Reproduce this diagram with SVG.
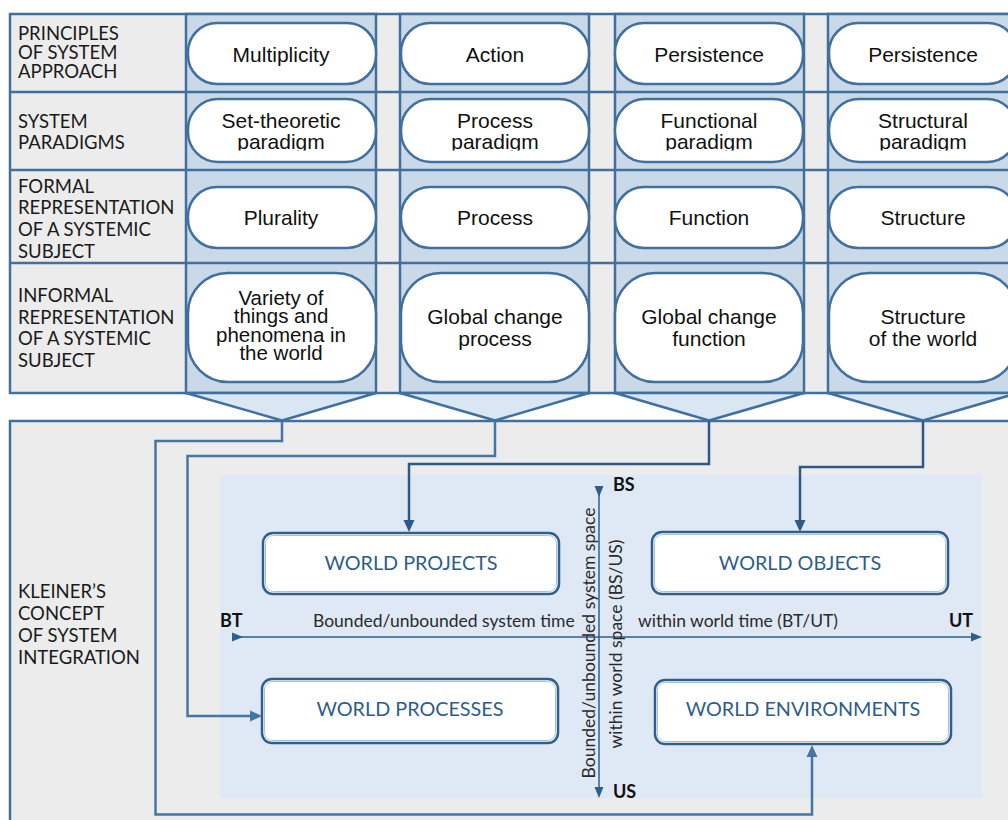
<svg xmlns="http://www.w3.org/2000/svg" width="1008" height="820" viewBox="0 0 1008 820">
  <defs>
    <style>
      .frame { stroke: #41709E; stroke-width: 2.5; }
      .gray { fill: #ECECEC; }
      .col { fill: #C9D9E8; }
      .chev { fill: #D9E7F4; stroke: #41709E; stroke-width: 2.5; stroke-linejoin: round; }
      .pill { fill: #FFFFFF; stroke: #41709E; stroke-width: 2.5; }
      .ptxt { font-family: "Liberation Sans", Arial, sans-serif; font-size: 21px; fill: #111111; text-anchor: middle; }
      .tight { font-size: 20.5px; }
      .lbl { font-family: Lato, "Open Sans", sans-serif; font-size: 18.5px; fill: #1A1A1A; }
      .box { fill: #FFFFFF; stroke: #2F5F8C; stroke-width: 2.5; }
      .boxin { fill: none; stroke: #A9C2DA; stroke-width: 1; }
      .btxt { font-family: Lato, "Open Sans", sans-serif; font-size: 19.8px; fill: #2E5D8A; text-anchor: middle; }
      .axis { stroke: #2D5F8E; stroke-width: 1.5; fill: none; }
      .atxt { font-family: Lato, "Open Sans", sans-serif; font-size: 17.5px; fill: #2A2A2A; }
      .pole { font-family: Lato, "Open Sans", sans-serif; font-size: 18px; font-weight: bold; fill: #111111; }
      .link { fill: none; stroke-width: 2.5; stroke-linejoin: miter; }
      .light { stroke: #4675A3; }
      .dark { stroke: #2C5986; }
    </style>
    <marker id="arrLight" markerUnits="userSpaceOnUse" viewBox="0 -6 12 12" refX="0" refY="0" markerWidth="12" markerHeight="12" orient="auto">
      <path d="M0,-5.5 L12,0 L0,5.5 z" fill="#4675A3"/>
    </marker>
    <marker id="arrDark" markerUnits="userSpaceOnUse" viewBox="0 -6 12 12" refX="0" refY="0" markerWidth="12" markerHeight="12" orient="auto">
      <path d="M0,-5.5 L12,0 L0,5.5 z" fill="#2C5986"/>
    </marker>
    <marker id="arrAxis" markerUnits="userSpaceOnUse" viewBox="0 -5 11 10" refX="0" refY="0" markerWidth="11" markerHeight="10" orient="auto">
      <path d="M0,-4.5 L11,0 L0,4.5 z" fill="#2D5F8E"/>
    </marker>
    <!-- the second line of the paradigm pills is cut just under its baseline -->
    <clipPath id="cutRow2">
      <rect x="0" y="95" width="1008" height="55.5"/>
    </clipPath>
  </defs>

  <!-- upper table: grey background and row rules -->
  <g id="table">
    <rect class="gray frame" x="10" y="14" width="1012" height="379"/>
    <rect class="col frame" x="186" y="14" width="190" height="379"/>
    <rect class="col frame" x="400" y="14" width="189" height="379"/>
    <rect class="col frame" x="615" y="14" width="189" height="379"/>
    <rect class="col frame" x="828" y="14" width="190" height="379"/>
    <line class="frame" x1="10" y1="92" x2="1008" y2="92"/>
    <line class="frame" x1="10" y1="170" x2="1008" y2="170"/>
    <line class="frame" x1="10" y1="263" x2="1008" y2="263"/>
  </g>

  <!-- row headings -->
  <g id="row-principles">
    <text class="lbl" x="18" y="40">PRINCIPLES</text>
    <text class="lbl" x="18" y="59">OF SYSTEM</text>
    <text class="lbl" x="18" y="78">APPROACH</text>
  </g>
  <g id="row-paradigms">
    <text class="lbl" x="18" y="128">SYSTEM</text>
    <text class="lbl" x="18" y="149">PARADIGMS</text>
  </g>
  <g id="row-formal">
    <text class="lbl" x="18" y="193">FORMAL</text>
    <text class="lbl" x="18" y="214">REPRESENTATION</text>
    <text class="lbl" x="18" y="236">OF A SYSTEMIC</text>
    <text class="lbl" x="18" y="258">SUBJECT</text>
  </g>
  <g id="row-informal">
    <text class="lbl" x="18" y="302">INFORMAL</text>
    <text class="lbl" x="18" y="323.5">REPRESENTATION</text>
    <text class="lbl" x="18" y="345">OF A SYSTEMIC</text>
    <text class="lbl" x="18" y="367">SUBJECT</text>
  </g>

  <!-- column 1 -->
  <g id="col-multiplicity">
    <rect class="pill" x="188" y="23" width="188" height="61" rx="29"/>
    <text class="ptxt" x="281" y="61.5">Multiplicity</text>
  </g>
  <g id="col-set-theoretic">
    <rect class="pill" x="188" y="99" width="188" height="63" rx="30"/>
    <g clip-path="url(#cutRow2)">
      <text class="ptxt" x="281" y="128">Set-theoretic</text>
      <text class="ptxt" x="281" y="149">paradigm</text>
    </g>
  </g>
  <g id="col-plurality">
    <rect class="pill" x="188" y="187" width="188" height="61" rx="29"/>
    <text class="ptxt" x="281" y="224.5">Plurality</text>
  </g>
  <g id="col-variety">
    <rect class="pill" x="188" y="273" width="188" height="109" rx="40"/>
    <text class="ptxt tight" x="281" y="304.5">Variety of</text>
    <text class="ptxt tight" x="281" y="323">things and</text>
    <text class="ptxt tight" x="281" y="341.5">phenomena in</text>
    <text class="ptxt tight" x="281" y="360">the world</text>
  </g>

  <!-- column 2 -->
  <g id="col-action">
    <rect class="pill" x="401" y="23" width="188" height="61" rx="29"/>
    <text class="ptxt" x="495" y="61.5">Action</text>
  </g>
  <g id="col-process-paradigm">
    <rect class="pill" x="401" y="99" width="188" height="63" rx="30"/>
    <g clip-path="url(#cutRow2)">
      <text class="ptxt" x="495" y="128">Process</text>
      <text class="ptxt" x="495" y="149">paradigm</text>
    </g>
  </g>
  <g id="col-process">
    <rect class="pill" x="401" y="187" width="188" height="61" rx="29"/>
    <text class="ptxt" x="495" y="224.5">Process</text>
  </g>
  <g id="col-global-process">
    <rect class="pill" x="401" y="273" width="188" height="109" rx="40"/>
    <text class="ptxt" x="495" y="324">Global change</text>
    <text class="ptxt" x="495" y="346">process</text>
  </g>

  <!-- column 3 -->
  <g id="col-persistence-a">
    <rect class="pill" x="615" y="23" width="188" height="61" rx="29"/>
    <text class="ptxt" x="709" y="61.5">Persistence</text>
  </g>
  <g id="col-functional-paradigm">
    <rect class="pill" x="615" y="99" width="188" height="63" rx="30"/>
    <g clip-path="url(#cutRow2)">
      <text class="ptxt" x="709" y="128">Functional</text>
      <text class="ptxt" x="709" y="149">paradigm</text>
    </g>
  </g>
  <g id="col-function">
    <rect class="pill" x="615" y="187" width="188" height="61" rx="29"/>
    <text class="ptxt" x="709" y="224.5">Function</text>
  </g>
  <g id="col-global-function">
    <rect class="pill" x="615" y="273" width="188" height="109" rx="40"/>
    <text class="ptxt" x="709" y="324">Global change</text>
    <text class="ptxt" x="709" y="346">function</text>
  </g>

  <!-- column 4 -->
  <g id="col-persistence-b">
    <rect class="pill" x="829" y="23" width="188" height="61" rx="29"/>
    <text class="ptxt" x="923" y="61.5">Persistence</text>
  </g>
  <g id="col-structural-paradigm">
    <rect class="pill" x="829" y="99" width="188" height="63" rx="30"/>
    <g clip-path="url(#cutRow2)">
      <text class="ptxt" x="923" y="128">Structural</text>
      <text class="ptxt" x="923" y="149">paradigm</text>
    </g>
  </g>
  <g id="col-structure">
    <rect class="pill" x="829" y="187" width="188" height="61" rx="29"/>
    <text class="ptxt" x="923" y="224.5">Structure</text>
  </g>
  <g id="col-structure-world">
    <rect class="pill" x="829" y="273" width="188" height="109" rx="40"/>
    <text class="ptxt" x="923" y="324">Structure</text>
    <text class="ptxt" x="923" y="346">of the world</text>
  </g>

  <!-- funnels under each column -->
  <g id="funnels">
    <polygon class="chev" points="186,393 376,393 282,420.5"/>
    <polygon class="chev" points="400,393 589,393 495,420.5"/>
    <polygon class="chev" points="615,393 804,393 709,420.5"/>
    <polygon class="chev" points="828,393 1018,393 923,420.5"/>
  </g>

  <!-- lower panel -->
  <g id="integration">
    <rect class="gray frame" x="10" y="421" width="1012" height="410"/>
    <rect x="220" y="475" width="762" height="323" fill="#DEE9F5"/>
    <text class="lbl" x="18" y="598">KLEINER’S</text>
    <text class="lbl" x="18" y="620">CONCEPT</text>
    <text class="lbl" x="18" y="642">OF SYSTEM</text>
    <text class="lbl" x="18" y="663.5">INTEGRATION</text>
  </g>

  <!-- time and space axes -->
  <g id="axes">
    <line class="axis" x1="232" y1="637" x2="971" y2="637" marker-start="url(#arrAxis)" marker-end="url(#arrAxis)"/>
    <line class="axis" x1="599" y1="486" x2="599" y2="787" marker-start="url(#arrAxis)" marker-end="url(#arrAxis)"/>
    <text class="pole" x="220" y="627">BT</text>
    <text class="pole" x="949" y="627">UT</text>
    <text class="pole" x="613" y="491">BS</text>
    <text class="pole" x="613" y="798">US</text>
    <text class="atxt" x="313" y="627">Bounded/unbounded system time</text>
    <text class="atxt" x="638" y="627">within world time (BT/UT)</text>
    <text class="atxt" transform="translate(595,643) rotate(-90)" text-anchor="middle">Bounded/unbounded system space</text>
    <text class="atxt" transform="translate(622,644) rotate(-90)" text-anchor="middle">within world space (BS/US)</text>
  </g>

  <!-- world quadrants -->
  <g id="world-projects">
    <rect class="box" x="263" y="533" width="296" height="61" rx="10"/>
    <rect class="boxin" x="265.5" y="535.5" width="291" height="56" rx="8"/>
    <text class="btxt" x="411" y="570">WORLD PROJECTS</text>
  </g>
  <g id="world-objects">
    <rect class="box" x="652" y="532" width="296" height="62" rx="10"/>
    <rect class="boxin" x="654.5" y="534.5" width="291" height="57" rx="8"/>
    <text class="btxt" x="800" y="570">WORLD OBJECTS</text>
  </g>
  <g id="world-processes">
    <rect class="box" x="262" y="679" width="296" height="64" rx="10"/>
    <rect class="boxin" x="264.5" y="681.5" width="291" height="59" rx="8"/>
    <text class="btxt" x="410" y="716">WORLD PROCESSES</text>
  </g>
  <g id="world-environments">
    <rect class="box" x="655" y="680" width="296" height="64" rx="10"/>
    <rect class="boxin" x="657.5" y="682.5" width="291" height="59" rx="8"/>
    <text class="btxt" x="803" y="716">WORLD ENVIRONMENTS</text>
  </g>

  <!-- links from the funnels down to the quadrants -->
  <g id="connectors">
    <path class="link light" d="M282,421 V441 H155.5 V814.5 H812 V757" marker-end="url(#arrLight)"/>
    <path class="link light" d="M495,421 V456 H187.5 V716 H250" marker-end="url(#arrLight)"/>
    <path class="link dark" d="M709,421 V464 H409 V520" marker-end="url(#arrDark)"/>
    <path class="link dark" d="M923,421 V467 H800 V520" marker-end="url(#arrDark)"/>
  </g>
</svg>
